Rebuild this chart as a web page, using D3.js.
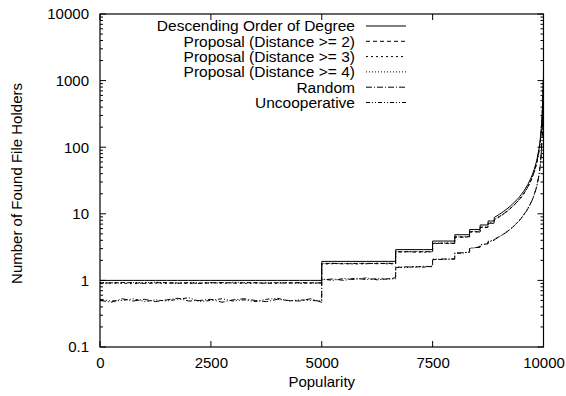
<!DOCTYPE html>
<html>
<head>
<meta charset="utf-8">
<script src="https://cdn.jsdelivr.net/npm/d3@7"></script>
<style>
html,body{margin:0;padding:0;background:#fff;}
svg{display:block;}
text{font-family:"Liberation Sans",Arial,Helvetica,sans-serif;font-size:15px;fill:#000;}
</style>
</head>
<body>
<svg id="chart" width="566" height="396"></svg>
<script>
// ---- data ----
const popularity = [0,250,500,750,1000,1250,1500,1750,2000,2250,2500,2750,3000,3250,3500,3750,4000,4250,4500,4750,4999,
  5000,5250,5500,5750,6000,6250,6500,6666,
  6667,6900,7100,7300,7499,
  7500,7750,7999,
  8000,8166,8333,
  8334,8450,8571,
  8572,8680,8750,
  8751,8830,8888,
  8889,8950,9000,9050,9100,9150,9200,9250,9300,9350,9400,9450,9500,9550,9600,9650,9700,9750,9800,9850,9900,9925,9950,9970,9985,10000];

const descending = [1,1,1,1,1,1,1,1,1,1,1,1,1,1,1,1,1,1,1,1,1,
  1.93,1.93,1.93,1.93,1.93,1.93,1.93,1.93,
  2.9,2.9,2.9,2.9,2.9,
  3.9,3.9,3.9,
  4.85,4.85,4.85,
  5.8,5.8,5.8,
  6.8,6.8,6.8,
  7.8,7.8,7.8,
  8.8,9.3,9.8,10.3,10.9,11.5,12.2,13,14,15,16.3,17.7,19.5,21.6,24.4,27.8,32.5,39,48.5,64,96,128,190,310,560,1150];

const proposal2 = [0.92,0.91,0.93,0.92,0.90,0.92,0.93,0.91,0.92,0.90,0.92,0.93,0.91,0.92,0.93,0.90,0.92,0.91,0.93,0.92,0.91,
  1.78,1.80,1.77,1.79,1.81,1.78,1.80,1.79,
  2.68,2.70,2.66,2.71,2.69,
  3.60,3.62,3.58,
  4.50,4.45,4.52,
  5.35,5.40,5.30,
  6.30,6.25,6.30,
  7.20,7.25,7.15,
  8.1,8.6,9.0,9.5,10.0,10.6,11.2,12.0,12.9,13.8,15.0,16.3,17.9,19.9,22.4,25.6,29.9,35.9,44.6,59,88,117,172,285,520,1100];

const proposal3 = [0.90,0.92,0.91,0.89,0.92,0.91,0.90,0.92,0.90,0.91,0.93,0.90,0.92,0.90,0.91,0.92,0.90,0.93,0.91,0.90,0.92,
  1.76,1.78,1.80,1.76,1.78,1.81,1.77,1.78,
  2.66,2.68,2.70,2.65,2.68,
  3.57,3.60,3.62,
  4.46,4.50,4.47,
  5.32,5.36,5.33,
  6.24,6.28,6.22,
  7.15,7.18,7.20,
  8.0,8.5,8.9,9.4,9.9,10.5,11.1,11.9,12.8,13.7,14.9,16.2,17.7,19.7,22.2,25.3,29.6,35.5,44.2,58,87,116,170,282,515,1090];

const proposal4 = [0.93,0.92,0.91,0.93,0.92,0.94,0.92,0.90,0.93,0.92,0.91,0.92,0.94,0.93,0.91,0.92,0.93,0.92,0.90,0.93,0.92,
  1.80,1.82,1.79,1.81,1.78,1.80,1.82,1.80,
  2.72,2.70,2.73,2.69,2.72,
  3.63,3.65,3.62,
  4.55,4.52,4.56,
  5.42,5.45,5.40,
  6.35,6.33,6.38,
  7.28,7.30,7.25,
  8.2,8.7,9.1,9.6,10.1,10.7,11.3,12.1,13.0,13.9,15.1,16.4,18.0,20.0,22.6,25.8,30.2,36.2,45.0,60,89,118,174,288,525,1100];

const random = [0.50,0.47,0.53,0.49,0.52,0.48,0.51,0.54,0.49,0.50,0.52,0.47,0.51,0.53,0.50,0.48,0.52,0.50,0.49,0.53,0.47,
  1.02,1.05,1.00,1.08,1.03,1.06,1.04,1.10,
  1.55,1.60,1.58,1.63,1.60,
  2.05,2.10,2.08,
  2.55,2.60,2.65,
  3.00,3.10,3.15,
  3.40,3.50,3.55,
  3.80,3.90,4.00,
  4.1,4.3,4.5,4.7,4.95,5.2,5.5,5.85,6.25,6.7,7.2,7.8,8.6,9.5,10.6,12,13.8,16.3,20,26,38,52,80,140,300,900];

const uncooperative = [0.52,0.49,0.50,0.53,0.48,0.51,0.49,0.52,0.55,0.48,0.50,0.53,0.49,0.51,0.48,0.52,0.54,0.49,0.51,0.50,0.49,
  1.05,1.00,1.07,1.03,1.09,1.02,1.06,1.05,
  1.60,1.55,1.62,1.58,1.65,
  2.10,2.05,2.12,
  2.60,2.55,2.70,
  3.05,3.10,3.20,
  3.45,3.48,3.60,
  3.85,3.95,4.05,
  4.15,4.35,4.55,4.75,5.0,5.25,5.55,5.9,6.3,6.75,7.3,7.9,8.7,9.6,10.7,12.2,14,16.5,20.4,26.5,39,53,82,145,310,950];

const seriesNames = ["Descending Order of Degree","Proposal (Distance >= 2)","Proposal (Distance >= 3)","Proposal (Distance >= 4)","Random","Uncooperative"];
const seriesValues = [descending, proposal2, proposal3, proposal4, random, uncooperative];
const xTicks = [0,2500,5000,7500,10000];
const yTicks = [0.1,1,10,100,1000,10000];

// ---- styles ----
const dashes = [null, "4,3", "2,3", "1,2", "6,2,1,2", "4,2,1,2,1,2"];

const svg = d3.select("#chart");
const L = 100, R = 543.5, T = 14, B = 347;

const x = d3.scaleLinear().domain([0,10000]).range([L,R]);
const y = d3.scaleLog().domain([0.1,10000]).range([B,T]);

// minor log ticks
const minor = [];
for (let e = -1; e < 4; e++) for (let m = 2; m <= 9; m++) minor.push(m*Math.pow(10,e));

const g = svg.append("g");

// Y axis labels
const yAxisL = d3.axisLeft(y).tickValues(yTicks).tickSize(0).tickPadding(11)
  .tickFormat(d => d3.format("~g")(d));
g.append("g").attr("transform",`translate(${L},0)`).call(yAxisL)
  .call(s => s.select(".domain").remove())
  .selectAll("text").style("font-size","15px").attr("font-family",null);

// tick marks (inward, mirrored)
const tickG = g.append("g").attr("stroke","#000").attr("stroke-width",1);
yTicks.forEach(v => {
  tickG.append("line").attr("x1",L).attr("x2",L+6).attr("y1",y(v)).attr("y2",y(v));
  tickG.append("line").attr("x1",R).attr("x2",R-6).attr("y1",y(v)).attr("y2",y(v));
});
minor.forEach(v => {
  tickG.append("line").attr("x1",L).attr("x2",L+3).attr("y1",y(v)).attr("y2",y(v));
  tickG.append("line").attr("x1",R).attr("x2",R-3).attr("y1",y(v)).attr("y2",y(v));
});
xTicks.forEach(v => {
  tickG.append("line").attr("x1",x(v)).attr("x2",x(v)).attr("y1",B).attr("y2",B-6);
  tickG.append("line").attr("x1",x(v)).attr("x2",x(v)).attr("y1",T).attr("y2",T+6);
});

// X axis labels
const xAxis = d3.axisBottom(x).tickValues(xTicks).tickSize(0).tickPadding(10).tickFormat(d3.format("d"));
g.append("g").attr("transform",`translate(0,${B})`).call(xAxis)
  .call(s => s.select(".domain").remove())
  .selectAll("text").style("font-size","15px").attr("font-family",null);

// lines
const line = d3.line().x(d => x(d[0])).y(d => y(d[1]));
svg.append("clipPath").attr("id","clip").append("rect")
  .attr("x",L).attr("y",T).attr("width",R-L).attr("height",B-T);
const lg = svg.append("g").attr("clip-path","url(#clip)");
seriesValues.forEach((vals,i) => {
  const pts = popularity.map((p,j) => [p, vals[j]]);
  lg.append("path").datum(pts).attr("d",line)
    .attr("fill","none").attr("stroke","#000").attr("stroke-width",1)
    .attr("stroke-dasharray",dashes[i]);
});

// frame
svg.append("rect").attr("x",L).attr("y",T).attr("width",R-L).attr("height",B-T)
  .attr("fill","none").attr("stroke","#000").attr("stroke-width",1.2);

// legend
const leg = svg.append("g");
seriesNames.forEach((n,i) => {
  const yy = 26 + i*15.3;
  leg.append("text").attr("x",355).attr("y",yy).attr("dy","0.35em").attr("text-anchor","end")
    .style("font-size","15.5px").text(n);
  leg.append("line").attr("x1",366).attr("x2",406).attr("y1",yy).attr("y2",yy)
    .attr("stroke","#000").attr("stroke-width",1).attr("stroke-dasharray",dashes[i]);
});

// axis titles
svg.append("text").attr("x",(L+R)/2).attr("y",387).attr("text-anchor","middle").text("Popularity");
svg.append("text").attr("transform",`translate(22,${(T+B)/2 + 3}) rotate(-90)`).attr("text-anchor","middle")
  .text("Number of Found File Holders");
</script>
</body>
</html>
